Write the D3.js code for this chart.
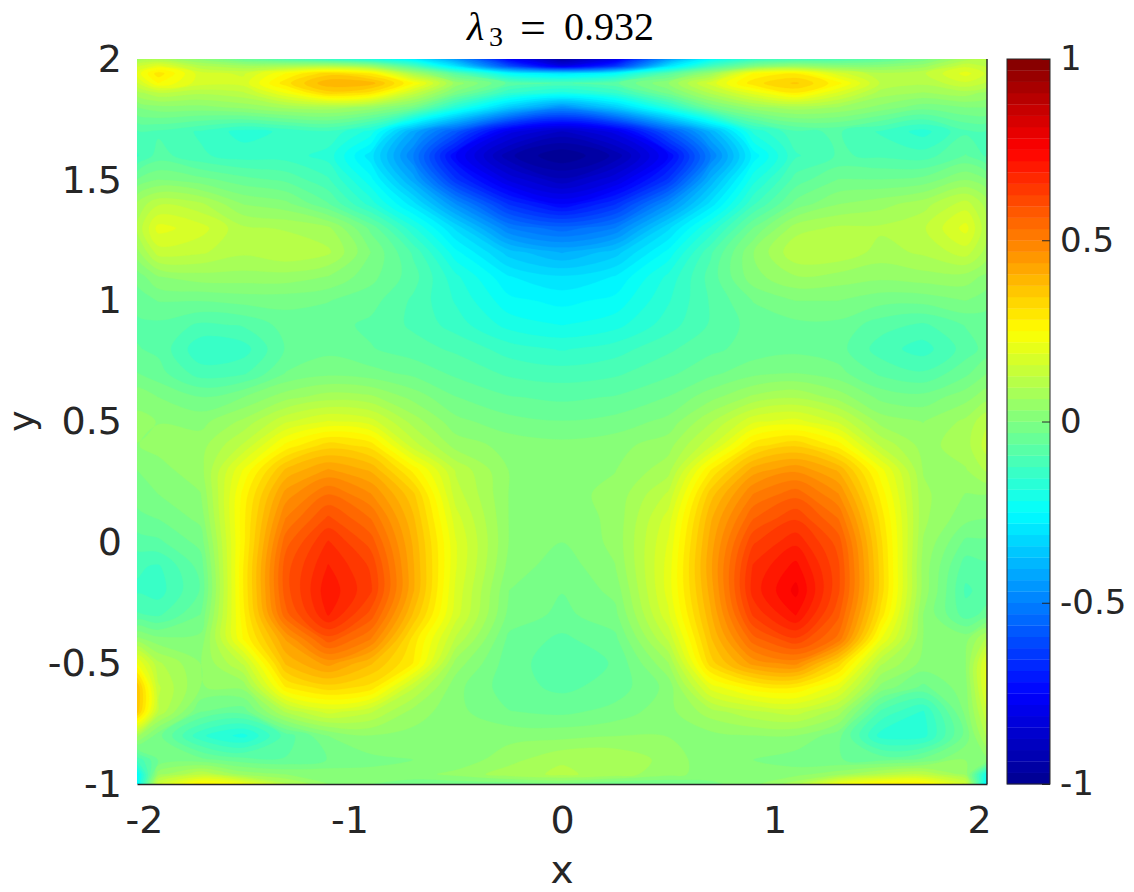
<!DOCTYPE html>
<html>
<head>
<meta charset="utf-8">
<script src="https://cdnjs.cloudflare.com/ajax/libs/d3/7.8.5/d3.min.js"></script>
<style>
  html, body { margin: 0; background: #fff; }
  text { font-family: "DejaVu Sans", sans-serif; fill: #262626; }
  .tick text { font-size: 38px; }
  .bar-axis .tick text { font-size: 34px; }
  .axis-label { font-size: 39px; }
  .y-label { font-size: 36px; }
  .title { font-family: "Liberation Serif", serif; font-size: 40px; fill: #000; }
</style>
</head>
<body>
<div id="chart"></div>
<script>
// grid
var xs = [-2, -1.9, -1.7, -1.5, -1.3, -1.1, -0.9, -0.7, -0.5, -0.25, 0, 0.25, 0.5, 0.7, 0.9, 1.1, 1.3, 1.5, 1.7, 1.9, 2];
var ys = [2, 1.97, 1.94, 1.9, 1.86, 1.8, 1.7, 1.6, 1.5, 1.4, 1.3, 1.2, 1.1, 1, 0.9, 0.8, 0.7, 0.6, 0.5, 0.4, 0.3, 0.2, 0.1, 0, -0.1, -0.2, -0.3, -0.4, -0.5, -0.6, -0.7, -0.8, -0.9, -0.96, -1];
var values = [
  [.05, .08, .02, -.05, -.1, -.15, -.2, -.28, -.45, -.75, -.95, -.8, -.45, -.25, -.15, -.12, -.1, -.07, -.02, .08, .1],
  [.15, .2, .1, .07, .08, .1, .05, -.1, -.3, -.6, -.8, -.65, -.3, -.12, 0, .05, .02, .02, .05, .15, .12],
  [.2, .3, .17, .15, .25, .33, .28, .08, -.08, -.25, -.3, -.25, -.08, .05, .25, .28, .17, .1, .12, .2, .15],
  [.15, .25, .17, .17, .3, .4, .39, .25, .05, -.07, -.1, -.07, .03, .17, .3, .35, .26, .12, .1, .15, .12],
  [.08, .12, .1, .12, .22, .33, .3, .14, -.01, -.15, -.2, -.15, -.02, .1, .2, .28, .18, .08, .06, .08, .05],
  [0, .02, .02, .04, .07, .08, .05, -.02, -.18, -.35, -.47, -.35, -.18, -.03, .05, .08, .06, .02, -.02, 0, 0],
  [-.1, -.1, -.13, -.17, -.15, -.13, -.2, -.42, -.58, -.8, -.88, -.8, -.58, -.4, -.18, -.1, -.09, -.13, -.17, -.1, -.1],
  [-.13, -.08, -.12, -.14, -.14, -.17, -.3, -.5, -.75, -.93, -1, -.93, -.75, -.5, -.27, -.13, -.09, -.1, -.11, -.06, -.1],
  [-.03, 0, -.02, -.05, -.07, -.12, -.24, -.42, -.65, -.82, -.9, -.82, -.65, -.4, -.2, -.08, -.03, -.03, -.02, .03, 0],
  [.07, .12, .1, .03, .01, -.06, -.17, -.3, -.47, -.66, -.75, -.66, -.47, -.3, -.13, -.02, .03, .05, .08, .14, .08],
  [.1, .2, .17, .1, .09, .07, -.04, -.18, -.32, -.5, -.55, -.5, -.32, -.18, -.03, .08, .1, .1, .12, .2, .1],
  [.05, .14, .13, .1, .12, .1, 0, -.1, -.24, -.36, -.41, -.36, -.24, -.1, .03, .12, .12, .08, .1, .14, .08],
  [-.02, .03, .05, .05, .05, .03, -.02, -.08, -.18, -.28, -.31, -.28, -.18, -.08, .02, .06, .05, .04, .05, .05, .02],
  [-.05, -.03, -.03, -.02, -.02, -.03, -.05, -.1, -.16, -.24, -.26, -.24, -.16, -.09, -.03, 0, 0, -.02, -.02, 0, -.02],
  [-.07, -.07, -.1, -.09, -.05, -.05, -.07, -.1, -.14, -.2, -.22, -.2, -.14, -.09, -.05, -.04, -.04, -.08, -.1, -.06, -.05],
  [-.06, -.07, -.15, -.14, -.06, -.04, -.06, -.08, -.1, -.14, -.16, -.14, -.1, -.07, -.05, -.04, -.05, -.11, -.14, -.08, -.05],
  [-.03, -.05, -.11, -.1, -.03, -.01, -.02, -.04, -.07, -.1, -.11, -.1, -.07, -.04, -.01, 0, -.02, -.07, -.09, -.04, 0],
  [.02, 0, -.03, 0, .05, .08, .07, .02, -.03, -.06, -.07, -.06, -.03, .02, .07, .09, .05, -.01, -.02, .02, .05],
  [.04, .03, .02, .07, .15, .19, .17, .08, .01, -.02, -.03, -.02, .01, .09, .18, .2, .15, .05, .03, .07, .12],
  [.03, .04, .05, .13, .26, .33, .3, .14, .05, .02, .01, .02, .05, .15, .3, .34, .27, .12, .05, .08, .14],
  [0, .02, .05, .22, .38, .44, .4, .27, .12, .03, .02, .03, .08, .28, .42, .46, .4, .23, .06, .06, .1],
  [-.02, 0, .03, .26, .45, .53, .47, .35, .14, .03, .02, .04, .13, .36, .5, .55, .47, .27, .07, .03, .03],
  [-.04, -.03, .01, .27, .5, .6, .53, .38, .17, .03, .01, .04, .17, .4, .56, .62, .53, .3, .07, .01, 0],
  [-.08, -.07, -.02, .27, .55, .66, .58, .4, .19, .03, 0, .04, .19, .42, .62, .68, .58, .32, .06, -.04, -.04],
  [-.12, -.13, -.05, .28, .58, .69, .62, .41, .19, .02, -.02, .03, .2, .43, .66, .73, .6, .33, .05, -.08, -.07],
  [-.13, -.14, -.06, .28, .58, .71, .63, .41, .18, 0, -.03, .01, .2, .42, .67, .76, .6, .33, .05, -.1, -.08],
  [-.09, -.1, -.03, .27, .55, .69, .58, .37, .17, -.01, -.04, -.01, .18, .4, .63, .72, .57, .3, .03, -.08, -.05],
  [.04, .01, .01, .25, .44, .58, .5, .3, .12, -.04, -.07, -.04, .13, .37, .55, .62, .52, .22, .03, .02, .1],
  [.22, .1, .03, .13, .38, .45, .38, .28, .05, -.05, -.08, -.06, .06, .33, .45, .48, .33, .1, .02, .03, .2],
  [.37, .13, .03, .04, .28, .33, .3, .13, .01, -.05, -.07, -.05, .01, .2, .27, .28, .2, .02, -.04, .02, .2],
  [.36, .12, -.03, -.05, .1, .17, .13, .05, .01, -.03, -.04, -.02, .02, .08, .12, .14, .08, -.1, -.16, .01, .15],
  [.07, -.02, -.15, -.2, -.08, 0, .03, .02, .01, .02, .02, .03, .03, .02, .03, .03, -.02, -.17, -.17, -.02, .1],
  [-.12, -.03, -.02, -.05, -.06, -.03, -.01, 0, .01, .05, .09, .09, .05, .01, 0, -.02, -.03, -.04, -.02, .03, .02],
  [-.25, .05, .12, .05, .03, .02, .01, .02, .04, .08, .1, .08, .04, .02, .02, .02, .05, .1, .12, .05, -.22],
  [-.28, .15, .27, .22, .1, .03, 0, -.02, -.02, -.02, -.01, -.03, -.03, -.01, .02, .08, .22, .27, .27, .15, -.3]
];
var xTicks = [-2, -1, 0, 1, 2];
var yTicks = [-1, -0.5, 0, 0.5, 1, 1.5, 2];
var barTicks = [-1, -0.5, 0, 0.5, 1];
var nLevels = 64;

var width = 1134, height = 892;
var plot = {left: 137, right: 987, top: 59, bottom: 784};
var bar = {left: 1007, right: 1050};

var svg = d3.select("#chart").append("svg")
  .attr("width", width)
  .attr("height", height)
  .style("display", "block");

var x = d3.scaleLinear().domain([-2, 2]).range([plot.left, plot.right]);
var y = d3.scaleLinear().domain([-1, 2]).range([plot.bottom, plot.top]);
var yBar = d3.scaleLinear().domain([-1, 1]).range([plot.bottom, plot.top]);

// jet colormap
var jet = d3.scaleLinear()
  .domain([0, 0.125, 0.375, 0.625, 0.875, 1])
  .range(["#00008f", "#0000ff", "#00ffff", "#ffff00", "#ff0000", "#800000"]);

var levels = d3.range(nLevels).map(function(i) { return -1 + 2 * i / nLevels; });
var levelColor = function(i) { return jet((i + 0.5) / nLevels); };

// contours live in grid coordinates, grid point i sits at i + 0.5
var gridX = d3.scaleLinear().domain(xs.map(function(d, i) { return i + 0.5; })).range(xs.map(function(d) { return x(d); })).clamp(true);
var gridY = d3.scaleLinear().domain(ys.map(function(d, i) { return i + 0.5; })).range(ys.map(function(d) { return y(d); })).clamp(true);

var ringLine = d3.line()
  .x(function(p) { return gridX(p[0]); })
  .y(function(p) { return gridY(p[1]); })
  .curve(d3.curveCatmullRomClosed.alpha(0.5));

var contourPath = function(c) {
  return c.coordinates.map(function(polygon) {
    return polygon.map(function(ring) { return ringLine(ring.slice(0, -1)); }).join("");
  }).join("");
};

var contours = d3.contours()
  .size([xs.length, ys.length])
  .thresholds(levels)(d3.merge(values));

svg.append("clipPath").attr("id", "plot-clip")
  .append("rect")
  .attr("x", plot.left)
  .attr("y", plot.top)
  .attr("width", plot.right - plot.left)
  .attr("height", plot.bottom - plot.top);

var field = svg.append("g").attr("clip-path", "url(#plot-clip)");

field.append("rect")
  .attr("x", plot.left)
  .attr("y", plot.top)
  .attr("width", plot.right - plot.left)
  .attr("height", plot.bottom - plot.top)
  .attr("fill", levelColor(0));

field.selectAll("path")
  .data(contours)
  .enter().append("path")
  .attr("d", contourPath)
  .attr("fill-rule", "evenodd")
  .attr("fill", function(d, i) { return levelColor(i); })
  .attr("stroke", function(d, i) { return levelColor(i); })
  .attr("stroke-width", 0.3);

// axes
var xAxis = svg.append("g")
  .attr("transform", "translate(0," + plot.bottom + ")")
  .call(d3.axisBottom(x).tickValues(xTicks).tickFormat(function(d) { return d; }).tickSize(0).tickPadding(22));
xAxis.select(".domain").attr("stroke", "#262626").attr("stroke-width", 1.5);

var yAxis = svg.append("g")
  .attr("transform", "translate(" + plot.left + ",0)")
  .call(d3.axisLeft(y).tickValues(yTicks).tickFormat(function(d) { return d; }).tickSize(0).tickPadding(15));
yAxis.select(".domain").remove();

// nudge the end labels inward like the original
xAxis.selectAll(".tick text")
  .filter(function(d) { return d === -2; })
  .attr("dx", 7);
xAxis.selectAll(".tick text")
  .filter(function(d) { return d === 2; })
  .attr("dx", -8);

svg.append("line")
  .attr("x1", plot.right).attr("x2", plot.right)
  .attr("y1", plot.top).attr("y2", plot.bottom)
  .attr("stroke", "#262626")
  .attr("stroke-width", 1.5);

svg.append("text")
  .attr("class", "axis-label")
  .attr("x", (plot.left + plot.right) / 2)
  .attr("y", 883)
  .attr("text-anchor", "middle")
  .text("x");

svg.append("text")
  .attr("class", "y-label")
  .attr("transform", "translate(34,421) rotate(-90)")
  .attr("text-anchor", "middle")
  .text("y");

// title, spaced by hand to sit like the LaTeX one
var title = svg.append("text")
  .attr("class", "title")
  .attr("y", 40);
title.append("tspan").attr("x", 467).style("font-style", "italic").text("λ");
title.append("tspan").attr("x", 489).attr("dy", 6).style("font-size", "28px").text("3");
title.append("tspan").attr("x", 520).attr("dy", -3).style("font-size", "46px").text("=");
title.append("tspan").attr("x", 564).attr("dy", -3).text("0.932");

// colorbar
svg.append("g").selectAll("rect")
  .data(levels)
  .enter().append("rect")
  .attr("x", bar.left)
  .attr("width", bar.right - bar.left)
  .attr("y", function(d) { return yBar(d + 2 / nLevels); })
  .attr("height", yBar(0) - yBar(2 / nLevels) + 0.3)
  .attr("fill", function(d, i) { return levelColor(i); });

var barAxis = svg.append("g")
  .attr("class", "bar-axis")
  .attr("transform", "translate(" + bar.right + ",0)")
  .call(d3.axisRight(yBar).tickValues(barTicks).tickFormat(function(d) { return d; }).tickSize(0).tickPadding(10));
barAxis.select(".domain").remove();
barAxis.selectAll(".tick").append("line")
  .attr("x1", -8).attr("x2", 0)
  .attr("stroke", "#262626")
  .attr("stroke-width", 1);

svg.append("rect")
  .attr("x", bar.left)
  .attr("y", plot.top)
  .attr("width", bar.right - bar.left)
  .attr("height", plot.bottom - plot.top)
  .attr("fill", "none")
  .attr("stroke", "#262626")
  .attr("stroke-width", 1);
</script>
</body>
</html>
